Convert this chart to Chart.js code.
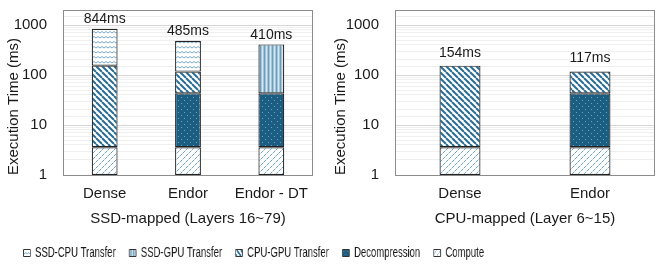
<!DOCTYPE html>
<html><head><meta charset="utf-8">
<script src="https://cdn.jsdelivr.net/npm/chart.js@4.4.1/dist/chart.umd.min.js"></script>
<style>
html,body{margin:0;padding:0;background:#fff;width:664px;height:274px;overflow:hidden;}
canvas{position:absolute;}
#c1{left:0;top:0}
#c2{left:332px;top:0}
#lg{left:0;top:226px}
</style></head><body>
<canvas id="c1" width="332" height="240"></canvas>
<canvas id="c2" width="332" height="240"></canvas>
<canvas id="lg" width="976" height="120" style="width:664px;height:120px"></canvas>
<script>
// ---- data ----
const seriesNames = ['SSD-CPU Transfer','SSD-GPU Transfer','CPU-GPU Transfer','Decompression','Compute'];
const ssdCategories = ['Dense','Endor','Endor - DT'];
const ssdCompute = [3.6, 3.6, 3.6];
const ssdDecompression = [null, 39.4, 39.4];
const ssdCpuGpu = [150.4, 74, null];
const ssdSsdGpu = [null, null, 367];
const ssdSsdCpu = [690, 368, null];
const ssdTotals = [844, 485, 410];
const cpuCategories = ['Dense','Endor'];
const cpuCompute = [3.6, 3.6];
const cpuDecompression = [null, 39.4];
const cpuCpuGpu = [150.4, 74];
const cpuTotals = [154, 117];
const yTickValues = [1, 10, 100, 1000];
const ssdAxisTitle = 'SSD-mapped (Layers 16~79)';
const cpuAxisTitle = 'CPU-mapped (Layer 6~15)';
const yAxisTitle = 'Execution Time (ms)';

// ---- patterns ----
function pat(w, h, draw){
  const c = document.createElement('canvas'); c.width = w; c.height = h;
  const g = c.getContext('2d'); draw(g, w, h);
  return g.createPattern(c, 'repeat');
}
const fills = {
  'Compute': pat(6,6,(g,s)=>{g.fillStyle='#fff';g.fillRect(0,0,s,s);g.fillStyle='#6fa5c6';
    for(let i=0;i<6;i++){ if(i%3!==2){ g.fillRect(i,5-i,1,1); } }
    g.fillStyle='#b9d5e6'; g.fillRect(2,3,1,1); g.fillRect(5,0,1,1);}),
  'Decompression': pat(6,6,(g,s)=>{g.fillStyle='#1c5e81';g.fillRect(0,0,s,s);g.fillStyle='#6fa3c2';
    g.fillRect(1,1,1,1);g.fillRect(4,4,1,1);}),
  'CPU-GPU Transfer': pat(6,6,(g,s)=>{g.fillStyle='#fff';g.fillRect(0,0,s,s);g.strokeStyle='#2a6d94';g.lineWidth=2;
    for(let k=-1;k<=1;k++){g.beginPath();g.moveTo(k*s,0);g.lineTo(k*s+s,s);g.stroke();}}),
  'SSD-CPU Transfer': pat(8,5,(g,w,h)=>{g.fillStyle='#fff';g.fillRect(0,0,w,h);g.strokeStyle='#7aabc9';g.lineWidth=1;
    g.beginPath();g.moveTo(0,3);g.lineTo(2,1.5);g.lineTo(4,3);g.lineTo(6,1.5);g.lineTo(8,3);g.stroke();}),
  'SSD-GPU Transfer': pat(4,4,(g,w,h)=>{g.fillStyle='#a4c4d7';g.fillRect(0,0,w,h);g.fillStyle='#6c9dbb';g.fillRect(0,0,1,h);
    g.fillStyle='#d6e5ee';g.fillRect(2,0,1,h);})
};

Chart.defaults.font.family = "'Liberation Sans', Arial, sans-serif";
Chart.defaults.color = '#1a1a1a';

function ds(name, data, bp){
  return {label:name, data:data, backgroundColor:fills[name], borderColor:'#222', borderWidth:1.2,
    borderSkipped:false, barPercentage:bp, categoryPercentage:1};
}

const totalLabels = {
  id:'totalLabels',
  afterDatasetsDraw(chart, args, opts){
    const {ctx} = chart; const x = chart.scales.x, y = chart.scales.y;
    ctx.save(); ctx.font = "14px 'Liberation Sans', Arial, sans-serif"; ctx.fillStyle = '#1a1a1a';
    ctx.textAlign = 'center'; ctx.textBaseline = 'middle';
    opts.totals.forEach((t,i)=>{ ctx.fillText(t + 'ms', x.getPixelForValue(i), y.getPixelForValue(t) - opts.offset); });
    ctx.restore();
  }
};
const frame = {
  id:'frame',
  beforeDatasetsDraw(chart){
    const {ctx, chartArea:a} = chart;
    ctx.save(); ctx.strokeStyle = '#8c8c8c'; ctx.lineWidth = 1;
    ctx.strokeRect(Math.round(a.left)+0.5, Math.round(a.top)+0.5, Math.round(a.right-a.left)-1, Math.round(a.bottom-a.top));
    ctx.restore();
  }
};

function opts(axisTitle, totals, offset, padRight, yTitlePadTop){
  return {
    responsive:false, animation:false, devicePixelRatio:1,
    layout:{padding:{top:10, right:padRight, bottom:12, left:0}},
    plugins:{legend:{display:false}, tooltip:{enabled:false}, totalLabels:{totals:totals, offset:offset}},
    scales:{
      x:{stacked:true, grid:{display:false, drawTicks:false}, border:{display:false},
        ticks:{font:{size:15}, padding:10, color:'#1a1a1a', maxRotation:0, minRotation:0, autoSkip:false},
        title:{display:true, text:axisTitle, font:{size:15}, padding:{top:7, bottom:0}, color:'#1a1a1a'},
        afterFit:(s)=>{ s.height = 53; }},
      y:{type:'logarithmic', stacked:true, min:1, max:2000,
        grid:{drawTicks:false, color:(c)=> (c.tick && yTickValues.includes(c.tick.value)) ? '#d6d6d6' : '#efefef'},
        border:{display:false},
        ticks:{autoSkip:false, font:{size:15}, padding:16, color:'#1a1a1a',
          callback:(v)=> yTickValues.includes(v) ? String(v) : ''},
        title:{display:true, text:yAxisTitle, align:'start', font:{size:15}, padding:{top:yTitlePadTop, bottom:0}, color:'#1a1a1a'},
        afterFit:(s)=>{ s.width = 63; s.paddingTop = 0; s.paddingBottom = 0; }}
    }
  };
}

new Chart(document.getElementById('c1'), {
  type:'bar',
  data:{labels:ssdCategories, datasets:[
    ds('Compute', ssdCompute, 0.31),
    ds('Decompression', ssdDecompression, 0.31),
    ds('CPU-GPU Transfer', ssdCpuGpu, 0.31),
    ds('SSD-GPU Transfer', ssdSsdGpu, 0.31),
    ds('SSD-CPU Transfer', ssdSsdCpu, 0.31)
  ]},
  options:opts(ssdAxisTitle, ssdTotals, 9.5, 19, 5),
  plugins:[totalLabels, frame]
});

new Chart(document.getElementById('c2'), {
  type:'bar',
  data:{labels:cpuCategories, datasets:[
    ds('Compute', cpuCompute, 0.315),
    ds('Decompression', cpuDecompression, 0.315),
    ds('CPU-GPU Transfer', cpuCpuGpu, 0.315)
  ]},
  options:opts(cpuAxisTitle, cpuTotals, 13, 9, 0),
  plugins:[totalLabels, frame]
});

// legend: drawn on a canvas that is displayed horizontally condensed (narrow legend font)
new Chart(document.getElementById('lg'), {
  type:'bar',
  data:{labels:[], datasets:seriesNames.map(n=>({label:n, data:[], backgroundColor:fills[n], borderColor:'#333', borderWidth:1}))},
  options:{responsive:false, animation:false, devicePixelRatio:1,
    layout:{padding:{left:0, right:230, top:0, bottom:0}},
    scales:{x:{display:false}, y:{display:false}},
    plugins:{tooltip:{enabled:false},
      legend:{display:true, position:'top',
        labels:{boxWidth:10, boxHeight:7, padding:20, color:'#1a1a1a',
          font:{size:14, family:"'Liberation Sans', Arial, sans-serif"}}}}}
});
</script>
</body></html>
